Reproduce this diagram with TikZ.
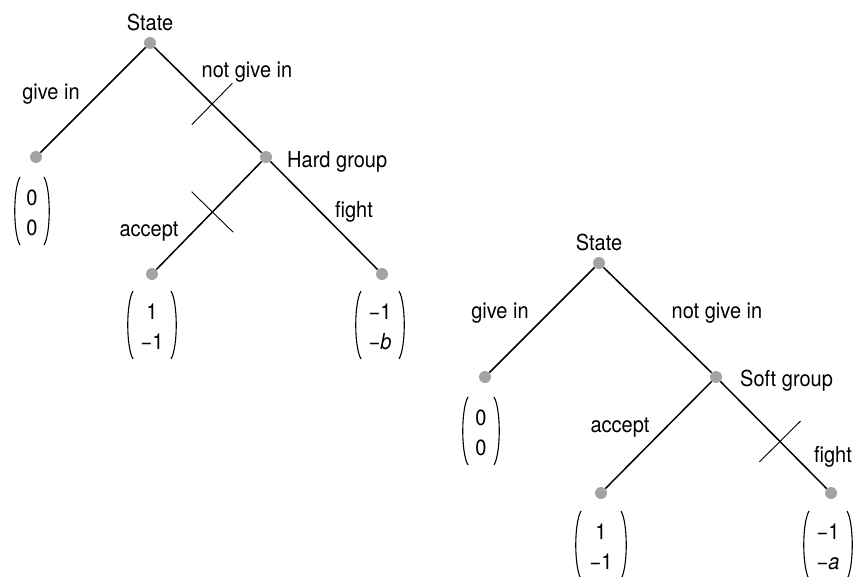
\documentclass[tikz,border=0pt]{standalone}
\usepackage{fontspec}
\setmainfont{TeX Gyre Heros}[FakeStretch=0.91]
\usetikzlibrary{calc}
\definecolor{dotgray}{RGB}{163,163,167}
\tikzset{
  dot/.style={circle, fill=dotgray, inner sep=0pt, minimum size=12pt},
  branch/.style={line width=1.5pt},
  vetoline/.style={line width=0.9pt},
  lbl/.style={inner sep=0pt, anchor=base, font=\fontsize{22}{26}\selectfont},
  pay/.style={inner sep=0pt, align=center, font=\fontsize{22}{30}\selectfont},
  paren/.style={line width=1.1pt}
}
% round brackets around a payoff node: #1 node name, #2 half width
\newcommand\payparens[2]{%
  \draw[paren] ($(#1)+(-#2+6,-36)$) .. controls ($(#1)+(-#2-1,-24)$) and ($(#1)+(-#2-1,20)$) .. ($(#1)+(-#2+6,32)$);
  \draw[paren] ($(#1)+(#2-6,-36)$) .. controls ($(#1)+(#2+1,-24)$) and ($(#1)+(#2+1,20)$) .. ($(#1)+(#2-6,32)$);
}
% short stroke crossing out a branch: #1 from, #2 to, #3 position along it
\newcommand\crossout[3]{%
  \coordinate (vm) at ($(#1)!#3!(#2)$);
  \draw[vetoline] ($(vm)!29pt!90:(#2)$) -- ($(vm)!29pt!-90:(#2)$);
}
\begin{document}
\begin{tikzpicture}[x=1pt,y=-1pt]
\useasboundingbox (0,0) rectangle (864,576);

% ---- game against the hard group ----
\node[dot] (s1) at (150,43) {};
\node[dot] (g1) at (36,157) {};
\node[dot] (h1) at (266,157) {};
\node[dot] (a1) at (152,274) {};
\node[dot] (f1) at (382,274) {};
\draw[branch] (s1) -- (g1);
\draw[branch] (s1) -- (h1);
\draw[branch] (h1) -- (a1);
\draw[branch] (h1) -- (f1);
\crossout{s1}{h1}{0.535}
\crossout{h1}{a1}{0.47}

\node[lbl] (ls1) at (150,30) {State};
\node[lbl] (lg1) at (51,99) {give in};
\node[lbl] (ln1) at (247,77) {not give in};
\node[lbl, anchor=base west] (lh1) at (287,167) {Hard group};
\node[lbl] (la1) at (149,236) {accept};
\node[lbl] (lf1) at (354,217) {fight};

\node[pay] (p1) at (32,213) {0\\0};
\node[pay] (p2) at (152,327) {1\\−1};
\node[pay] (p3) at (380,327) {−1\\−\textit{b}};
\payparens{p1}{18}
\payparens{p2}{25}
\payparens{p3}{25}

% ---- game against the soft group ----
\node[dot] (s2) at (599,263) {};
\node[dot] (g2) at (485,377) {};
\node[dot] (h2) at (716,377) {};
\node[dot] (a2) at (601,493) {};
\node[dot] (f2) at (831,493) {};
\draw[branch] (s2) -- (g2);
\draw[branch] (s2) -- (h2);
\draw[branch] (h2) -- (a2);
\draw[branch] (h2) -- (f2);
\crossout{h2}{f2}{0.556}

\node[lbl] (ls2) at (599,250) {State};
\node[lbl] (lg2) at (500,318) {give in};
\node[lbl] (ln2) at (717,318) {not give in};
\node[lbl, anchor=base west] (lh2) at (740,386) {Soft group};
\node[lbl] (la2) at (620,432) {accept};
\node[lbl] (lf2) at (833,462) {fight};

\node[pay] (p4) at (481,433) {0\\0};
\node[pay] (p5) at (601,547) {1\\−1};
\node[pay] (p6) at (828,547) {−1\\−\textit{a}};
\payparens{p4}{19}
\payparens{p5}{26}
\payparens{p6}{25}
\end{tikzpicture}
\end{document}
